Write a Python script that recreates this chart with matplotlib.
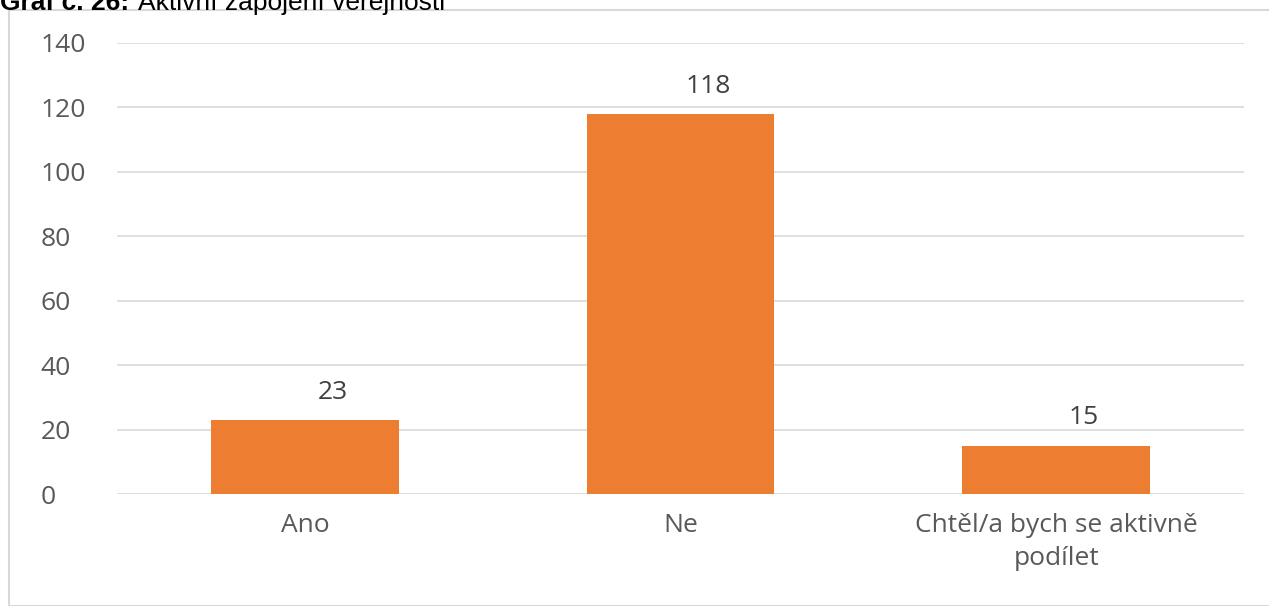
import matplotlib.pyplot as plt
import numpy as np
from matplotlib.patches import Rectangle

# data
categories = ['Ano', 'Ne', 'Chtěl/a bych se aktivně\npodílet']
values = [23, 118, 15]
yticks = [0, 20, 40, 60, 80, 100, 120, 140]

fig = plt.figure(figsize=(12.69, 6.06), dpi=100)

# chart frame (light gray border)
fig.patches.append(Rectangle((9 / 1269, 0), 1.0, 1 - 10 / 606, transform=fig.transFigure,
                             fill=False, edgecolor='#d9d9d9', linewidth=1.5, zorder=0))

# title, partly cut at the top like the original
fig.text(0.0, 1 - 10 / 606, 'Graf č. 26:', fontsize=19, fontweight='bold',
         family='Liberation Sans', va='baseline', ha='left')
fig.text(138 / 1269, 1 - 10 / 606, 'Aktivní zapojení veřejnosti', fontsize=19,
         family='Liberation Sans', va='baseline', ha='left')

ax = fig.add_axes([117 / 1269, 1 - 494 / 606, (1244 - 117) / 1269, (494 - 43) / 606])
x = np.arange(len(categories))
ax.bar(x, values, width=0.5, color='#ED7D31', zorder=2)

ax.set_xlim(-0.5, 2.5)
ax.set_ylim(0, 140)
ax.set_yticks(yticks)
ax.yaxis.grid(True, color='#d9d9d9', linewidth=1.2, zorder=0)
ax.set_axisbelow(True)
for s in ax.spines.values():
    s.set_visible(False)

ax.set_xticks(x)
ax.set_xticklabels(categories, family='Open Sans', fontsize=19, color='#595959',
                   linespacing=1.4)
ax.tick_params(axis='x', length=0, pad=14)
ax.tick_params(axis='y', length=0, pad=55, labelsize=19, labelcolor='#595959')
for lbl in ax.get_yticklabels():
    lbl.set_family('Open Sans')
    lbl.set_horizontalalignment('left')

for xi, v in zip(x, values):
    ax.annotate(str(v), (xi, v), xytext=(20, 20), textcoords='offset points',
                ha='center', va='center', fontsize=19, color='#404040', family='Open Sans')

fig.savefig('out.png', dpi=100)
